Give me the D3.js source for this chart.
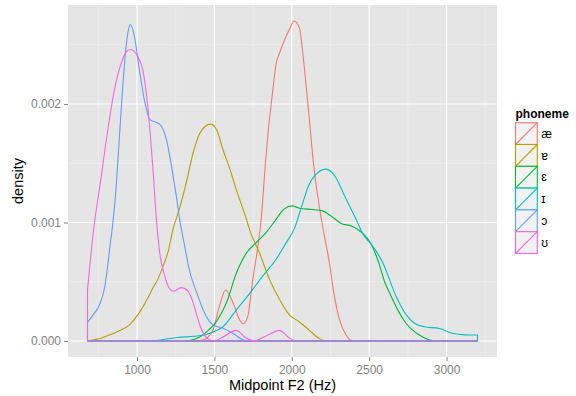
<!DOCTYPE html>
<html>
<head>
<meta charset="utf-8">
<script src="https://cdn.jsdelivr.net/npm/d3@7"></script>
<style>
  body { margin: 0; background: #fff; }
  text { font-family: "Liberation Sans", Arial, sans-serif; }
</style>
</head>
<body>
<div id="chart"></div>
<script>
// density estimates, [F2 Hz, density]
var phonemes = ['æ', 'ɐ', 'ɛ', 'ɪ', 'ɔ', 'ʊ'];
var colors = ['#F8766D', '#B79F00', '#00BA38', '#00BFC4', '#619CFF', '#F564E3'];

var densAe = [[680,0],[1380,0],[1430,0.00001],[1490,0.00009],[1534,0.0003],[1572,0.00043],[1621,0.00032],
    [1663,0.00018],[1686,0.000145],[1716,0.00021],[1748,0.00052],[1781,0.0008],[1800,0.001],[1830,0.0015],
    [1852,0.00183],[1867,0.002],[1882,0.00217],[1899,0.00234],[1921,0.00243],[1953,0.00254],[1985,0.00263],
    [2015,0.0027],[2050,0.00264],[2071,0.00243],[2093,0.00215],[2110,0.00192],[2140,0.0015],[2195,0.001],
    [2243,0.00066],[2275,0.00038],[2308,0.00018],[2351,0.00005],[2394,0],[3200,0]];
var densSchwa = [[680,0],[720,0.00001],[768,0.000023],[820,0.00005],[875,0.00008],[951,0.000136],[1005,0.00022],
    [1069,0.00036],[1103,0.00045],[1134,0.00052],[1168,0.00063],[1200,0.00075],[1232,0.00094],[1275,0.00112],
    [1319,0.00134],[1361,0.00158],[1405,0.00175],[1440,0.00181],[1477,0.00183],[1515,0.00178],[1554,0.00162],
    [1600,0.00145],[1641,0.00128],[1706,0.00103],[1727,0.00094],[1792,0.00074],[1856,0.00052],[1921,0.00035],
    [1985,0.00022],[2050,0.00016],[2114,0.00009],[2179,0.00002],[2230,0],[3200,0]];
var densEps = [[680,0],[1300,0],[1360,0.00001],[1413,0.00004],[1460,0.00009],[1499,0.00014],[1555,0.00026],
    [1577,0.00032],[1641,0.00057],[1706,0.00074],[1770,0.00083],[1831,0.00091],[1895,0.00102],[1948,0.00111],
    [2001,0.00114],[2050,0.00112],[2130,0.00111],[2194,0.0011],[2258,0.00105],[2322,0.00099],[2386,0.00097],
    [2437,0.00093],[2512,0.00082],[2562,0.00066],[2600,0.0005],[2641,0.00038],[2690,0.00025],[2738,0.00015],
    [2824,0.00005],[2931,0],[3200,0]];
var densI = [[680,0],[1100,0],[1160,0.00001],[1263,0.00003],[1370,0.00004],[1430,0.00005],[1478,0.00007],
    [1555,0.00012],[1641,0.00026],[1727,0.0004],[1813,0.00055],[1899,0.00069],[1964,0.00083],[2017,0.00095],
    [2065,0.00114],[2108,0.00131],[2151,0.0014],[2221,0.00145],[2279,0.00139],[2343,0.00122],[2407,0.00105],
    [2471,0.00088],[2512,0.00082],[2588,0.00066],[2673,0.00038],[2740,0.00022],[2792,0.00015],[2857,0.00012],
    [2953,0.000105],[3039,0.000065],[3120,0.000052],[3200,0.00005]];
var densOpen = [[680,0.000155],[716,0.00022],[759,0.00031],[792,0.00046],[813,0.00066],[828,0.00083],[839,0.00094],
    [865,0.0013],[886,0.00172],[908,0.00215],[929,0.00248],[945,0.00263],[957,0.00267],[983,0.00257],
    [1015,0.00229],[1048,0.00203],[1082,0.00187],[1112,0.00185],[1146,0.00183],[1190,0.0017],[1222,0.00148],
    [1254,0.00122],[1275,0.00103],[1308,0.0008],[1340,0.00059],[1388,0.0004],[1435,0.00024],[1477,0.00015],
    [1520,0.00012],[1555,0.000108],[1619,0.000065],[1684,0.00001],[1720,0],[3200,0]];
var densUps = [[680,0.00043],[716,0.0009],[768,0.00138],[811,0.00178],[854,0.00212],[897,0.00234],[930,0.00244],
    [957,0.00246],[1005,0.0024],[1037,0.00229],[1061,0.00208],[1082,0.0018],[1103,0.00145],[1125,0.00103],
    [1146,0.00075],[1179,0.00055],[1211,0.00044],[1235,0.00042],[1286,0.00045],[1329,0.00042],[1361,0.00033],
    [1390,0.0002],[1413,0.00011],[1456,0.00002],[1500,0],[1550,0.00003],[1641,0.00009],[1700,0.00003],
    [1755,0.000003],[1830,0.00004],[1921,0.00009],[1980,0.00003],[2028,0],[3200,0]];
var series = [densAe, densSchwa, densEps, densI, densOpen, densUps];

var xTicks = [1000, 1500, 2000, 2500, 3000];
var yTicks = [0, 0.001, 0.002];

var width = 576, height = 396;
var panel = {left: 68, right: 497, top: 5, bottom: 357};

var svg = d3.select('#chart')
            .append('svg')
            .attr('width', width)
            .attr('height', height);

// ggplot style 5% expansion
var xMin = 680, xMax = 3200;
var xPad = (xMax - xMin) * 0.05;
var yMax = d3.max(series, function(s) { return d3.max(s, function(d) { return d[1]; }); });

var x = d3.scaleLinear()
    .domain([xMin - xPad, xMax + xPad])
    .range([panel.left, panel.right]);
var y = d3.scaleLinear()
    .domain([-yMax * 0.05, yMax * 1.05])
    .range([panel.bottom, panel.top]);

svg.append('rect')
    .attr('x', panel.left)
    .attr('y', panel.top)
    .attr('width', panel.right - panel.left)
    .attr('height', panel.bottom - panel.top)
    .style('fill', '#E5E5E5');

// minor grid
var xMinor = xTicks.map(function(d) { return d - 250; }).concat([3250]);
var yMinor = [0.0005, 0.0015, 0.0025];

svg.selectAll('.xminor')
    .data(xMinor)
    .enter()
    .append('line')
    .attr('x1', function(d) { return x(d); })
    .attr('x2', function(d) { return x(d); })
    .attr('y1', panel.top)
    .attr('y2', panel.bottom)
    .style('stroke', '#F2F2F2')
    .style('stroke-width', 0.6);
svg.selectAll('.yminor')
    .data(yMinor)
    .enter()
    .append('line')
    .attr('x1', panel.left)
    .attr('x2', panel.right)
    .attr('y1', function(d) { return y(d); })
    .attr('y2', function(d) { return y(d); })
    .style('stroke', '#F2F2F2')
    .style('stroke-width', 0.6);

// major grid
svg.selectAll('.xmajor')
    .data(xTicks)
    .enter()
    .append('line')
    .attr('x1', function(d) { return x(d); })
    .attr('x2', function(d) { return x(d); })
    .attr('y1', panel.top)
    .attr('y2', panel.bottom)
    .style('stroke', '#fff')
    .style('stroke-width', 1.1);
svg.selectAll('.ymajor')
    .data(yTicks)
    .enter()
    .append('line')
    .attr('x1', panel.left)
    .attr('x2', panel.right)
    .attr('y1', function(d) { return y(d); })
    .attr('y2', function(d) { return y(d); })
    .style('stroke', '#fff')
    .style('stroke-width', 1.1);

// density outlines, closed like ggplot polygons
var line = d3.line()
    .x(function(d) { return x(d[0]); })
    .y(function(d) { return y(d[1]); })
    .curve(d3.curveMonotoneX);

series.forEach(function(s, i) {
    var p = 'M' + x(xMin) + ',' + y(0) + 'L' + line(s).slice(1) +
            'L' + x(xMax) + ',' + y(0) + 'Z';
    svg.append('path')
        .attr('d', p)
        .style('fill', 'none')
        .style('stroke', colors[i])
        .style('stroke-width', 1.1);
});

// axes
var xAxis = svg.append('g')
    .attr('transform', 'translate(0,' + panel.bottom + ')')
    .call(d3.axisBottom(x).tickValues(xTicks).tickFormat(d3.format('d')).tickSizeOuter(0).tickSize(4).tickPadding(4));
var yAxis = svg.append('g')
    .attr('transform', 'translate(' + panel.left + ',0)')
    .call(d3.axisLeft(y).tickValues(yTicks).tickFormat(d3.format('.3f')).tickSizeOuter(0).tickSize(4).tickPadding(3));

[xAxis, yAxis].forEach(function(a) {
    a.select('.domain').remove();
    a.selectAll('line').style('stroke', '#7F7F7F');
    a.selectAll('text')
        .style('fill', '#7F7F7F')
        .style('font-size', '12px')
        .style('font-family', '"Liberation Sans", Arial, sans-serif');
});

svg.append('text')
    .attr('x', (panel.left + panel.right) / 2)
    .attr('y', 390)
    .attr('text-anchor', 'middle')
    .style('font-size', '14.5px')
    .text('Midpoint F2 (Hz)');

svg.append('text')
    .attr('transform', 'translate(23,' + (panel.top + panel.bottom) / 2 + ') rotate(-90)')
    .attr('text-anchor', 'middle')
    .style('font-size', '14.5px')
    .text('density');

// legend
var keySize = 21.8;
var gLegend = svg.append('g')
    .attr('transform', 'translate(515.5,122.7)');

gLegend.append('text')
    .attr('x', 0)
    .attr('y', -4.5)
    .style('font-size', '12px')
    .style('font-weight', 'bold')
    .text('phoneme');

var keys = gLegend.selectAll('.key')
    .data(phonemes)
    .enter()
    .append('g')
    .attr('class', 'key')
    .attr('transform', function(d, i) { return 'translate(0,' + (i * keySize) + ')'; });

keys.append('rect')
    .attr('width', keySize)
    .attr('height', keySize)
    .style('fill', '#F2F2F2')
    .style('stroke', function(d, i) { return colors[i]; })
    .style('stroke-width', 1.1);

keys.append('line')
    .attr('x1', 0)
    .attr('y1', keySize)
    .attr('x2', keySize)
    .attr('y2', 0)
    .style('stroke', function(d, i) { return colors[i]; })
    .style('stroke-width', 1.1);

keys.append('text')
    .attr('x', keySize + 4)
    .attr('y', keySize / 2)
    .attr('dy', '0.35em')
    .style('font-size', '12px')
    .text(function(d) { return d; });
</script>
</body>
</html>
